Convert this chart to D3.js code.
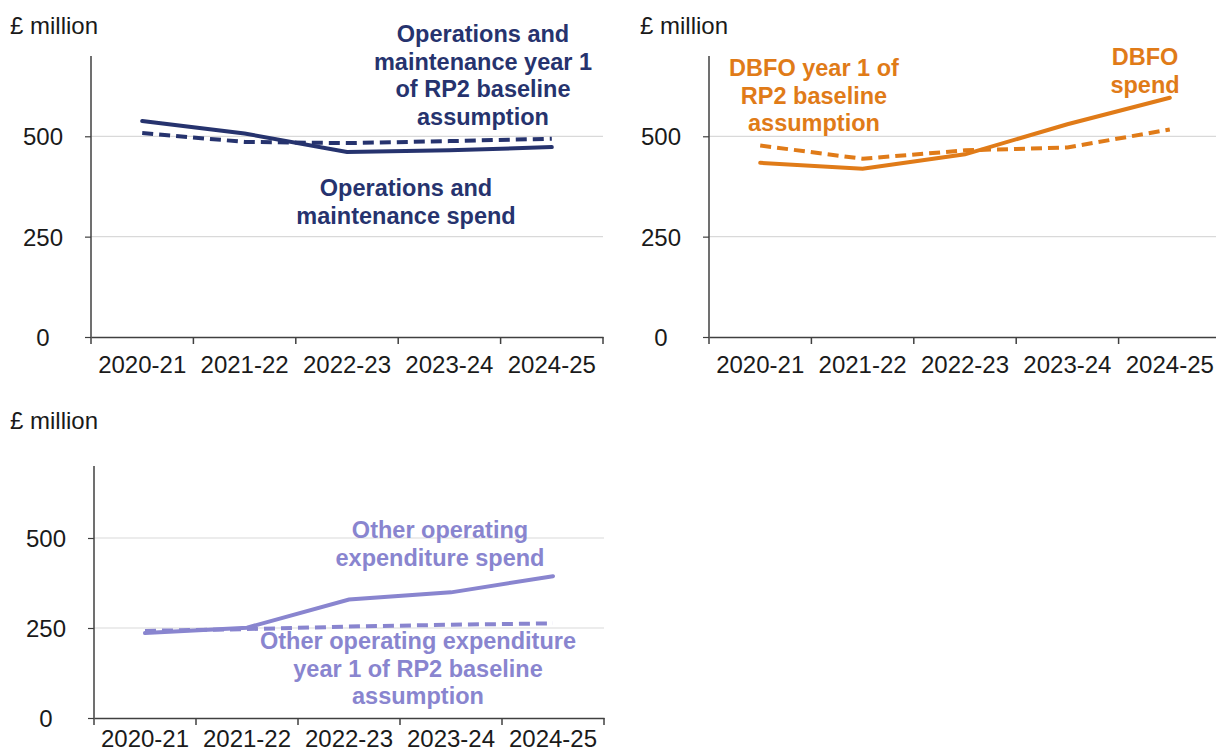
<!DOCTYPE html>
<html><head><meta charset="utf-8">
<script src="https://cdn.jsdelivr.net/npm/d3@7"></script>
<style>
body{margin:0;background:#fff;}
svg{display:block;font-family:"Liberation Sans",Arial,sans-serif;}
</style></head>
<body>
<svg id="c" width="1216" height="756"></svg>
<script>
const categories = ["2020-21","2021-22","2022-23","2023-24","2024-25"];
const yTicks = [0, 250, 500];
const yMax = 700;
const unitLabel = "£ million";

const omSpend    = [538, 507, 461, 465, 473];
const omBaseline = [508, 486, 483, 488, 494];
const dbfoSpend    = [434, 419, 455, 530, 596];
const dbfoBaseline = [477, 444, 465, 472, 517];
const otherSpend    = [236, 251, 329, 349, 394];
const otherBaseline = [242, 247, 254, 259, 263];

const omSpendLabel = ["Operations and", "maintenance spend"];
const omBaseLabel = ["Operations and", "maintenance year 1", "of RP2 baseline", "assumption"];
const dbfoSpendLabel = ["DBFO", "spend"];
const dbfoBaseLabel = ["DBFO year 1 of", "RP2 baseline", "assumption"];
const otherSpendLabel = ["Other operating", "expenditure spend"];
const otherBaseLabel = ["Other operating expenditure", "year 1 of RP2 baseline", "assumption"];

const svg = d3.select("#c");
const FS = 24, LFS = 23.5;

function panel(opt){
  const x = d3.scaleBand().domain(categories).range([opt.x0, opt.x1]);
  const y = d3.scaleLinear().domain([0, yMax]).range([opt.y0, opt.y1]);
  const g = svg.append("g");

  g.selectAll(".grid").data(yTicks.filter(d=>d>0)).join("line")
    .attr("x1", opt.x0).attr("x2", opt.x1)
    .attr("y1", d=>y(d)).attr("y2", d=>y(d))
    .attr("stroke", "#d9d9d9").attr("stroke-width", 1.2);

  const ya = g.append("g").attr("transform", `translate(${opt.x0},0)`)
    .call(d3.axisLeft(y).tickValues(yTicks).tickSize(6).tickPadding(0).tickFormat(d3.format("d")));
  ya.select(".domain").attr("stroke", "#404040").attr("stroke-width", 1.5)
    .attr("d", `M0,${opt.y0}V${opt.y1}`);
  ya.selectAll(".tick line").attr("stroke", "#404040").attr("stroke-width", 1.2);
  ya.selectAll(".tick text").attr("text-anchor", "middle").attr("x", -48).attr("dy", "0.35em")
    .attr("font-size", FS).attr("fill", "#1a1a1a").attr("font-family", "Liberation Sans, Arial, sans-serif");

  const xa = g.append("g").attr("transform", `translate(0,${opt.y0})`)
    .call(d3.axisBottom(x).tickSize(0).tickPadding(opt.pad));
  xa.select(".domain").attr("stroke", "#404040").attr("stroke-width", 1.5);
  xa.selectAll(".tick text").attr("font-size", FS).attr("fill", "#1a1a1a")
    .attr("font-family", "Liberation Sans, Arial, sans-serif");
  const bounds = categories.map(c=>x(c)).concat([opt.x1]);
  xa.selectAll(".btick").data(bounds).join("line")
    .attr("x1", d=>d).attr("x2", d=>d).attr("y1", 0).attr("y2", 7)
    .attr("stroke", "#404040").attr("stroke-width", 1.5);

  g.append("text").attr("x", opt.ux).attr("y", opt.uy).text(unitLabel)
    .attr("font-size", FS).attr("fill", "#1a1a1a");

  const line = d3.line().x((d,i)=>x(categories[i]) + x.bandwidth()/2).y(d=>y(d));
  g.append("path").datum(opt.base).attr("d", line).attr("fill", "none")
    .attr("stroke", opt.color).attr("stroke-width", 4).attr("stroke-dasharray", "11,6");
  g.append("path").datum(opt.spend).attr("d", line).attr("fill", "none")
    .attr("stroke", opt.color).attr("stroke-width", 4).attr("stroke-linecap", "round");

  opt.labels.forEach(L=>{
    const t = g.append("text").attr("text-anchor", "middle").attr("font-size", LFS)
      .attr("font-weight", "bold").attr("fill", opt.color);
    L.lines.forEach((s,i)=>{
      t.append("tspan").attr("x", L.x).attr("y", L.y + i*27.5).text(s);
    });
  });
}

panel({x0:91, x1:603, y0:337, y1:56, ux:10, uy:34, color:"#26336e", pad:19,
  spend: omSpend, base: omBaseline,
  labels:[{lines: omBaseLabel, x:483, y:42},{lines: omSpendLabel, x:406, y:196}]});

panel({x0:709, x1:1221, y0:337, y1:56, ux:640, uy:34, color:"#e07b18", pad:19,
  spend: dbfoSpend, base: dbfoBaseline,
  labels:[{lines: dbfoBaseLabel, x:814, y:76},{lines: dbfoSpendLabel, x:1145, y:65}]});

panel({x0:94, x1:604, y0:718, y1:466, ux:10, uy:429, color:"#8985cf", pad:12,
  spend: otherSpend, base: otherBaseline,
  labels:[{lines: otherSpendLabel, x:440, y:538},{lines: otherBaseLabel, x:418, y:649}]});
</script>
</body></html>
